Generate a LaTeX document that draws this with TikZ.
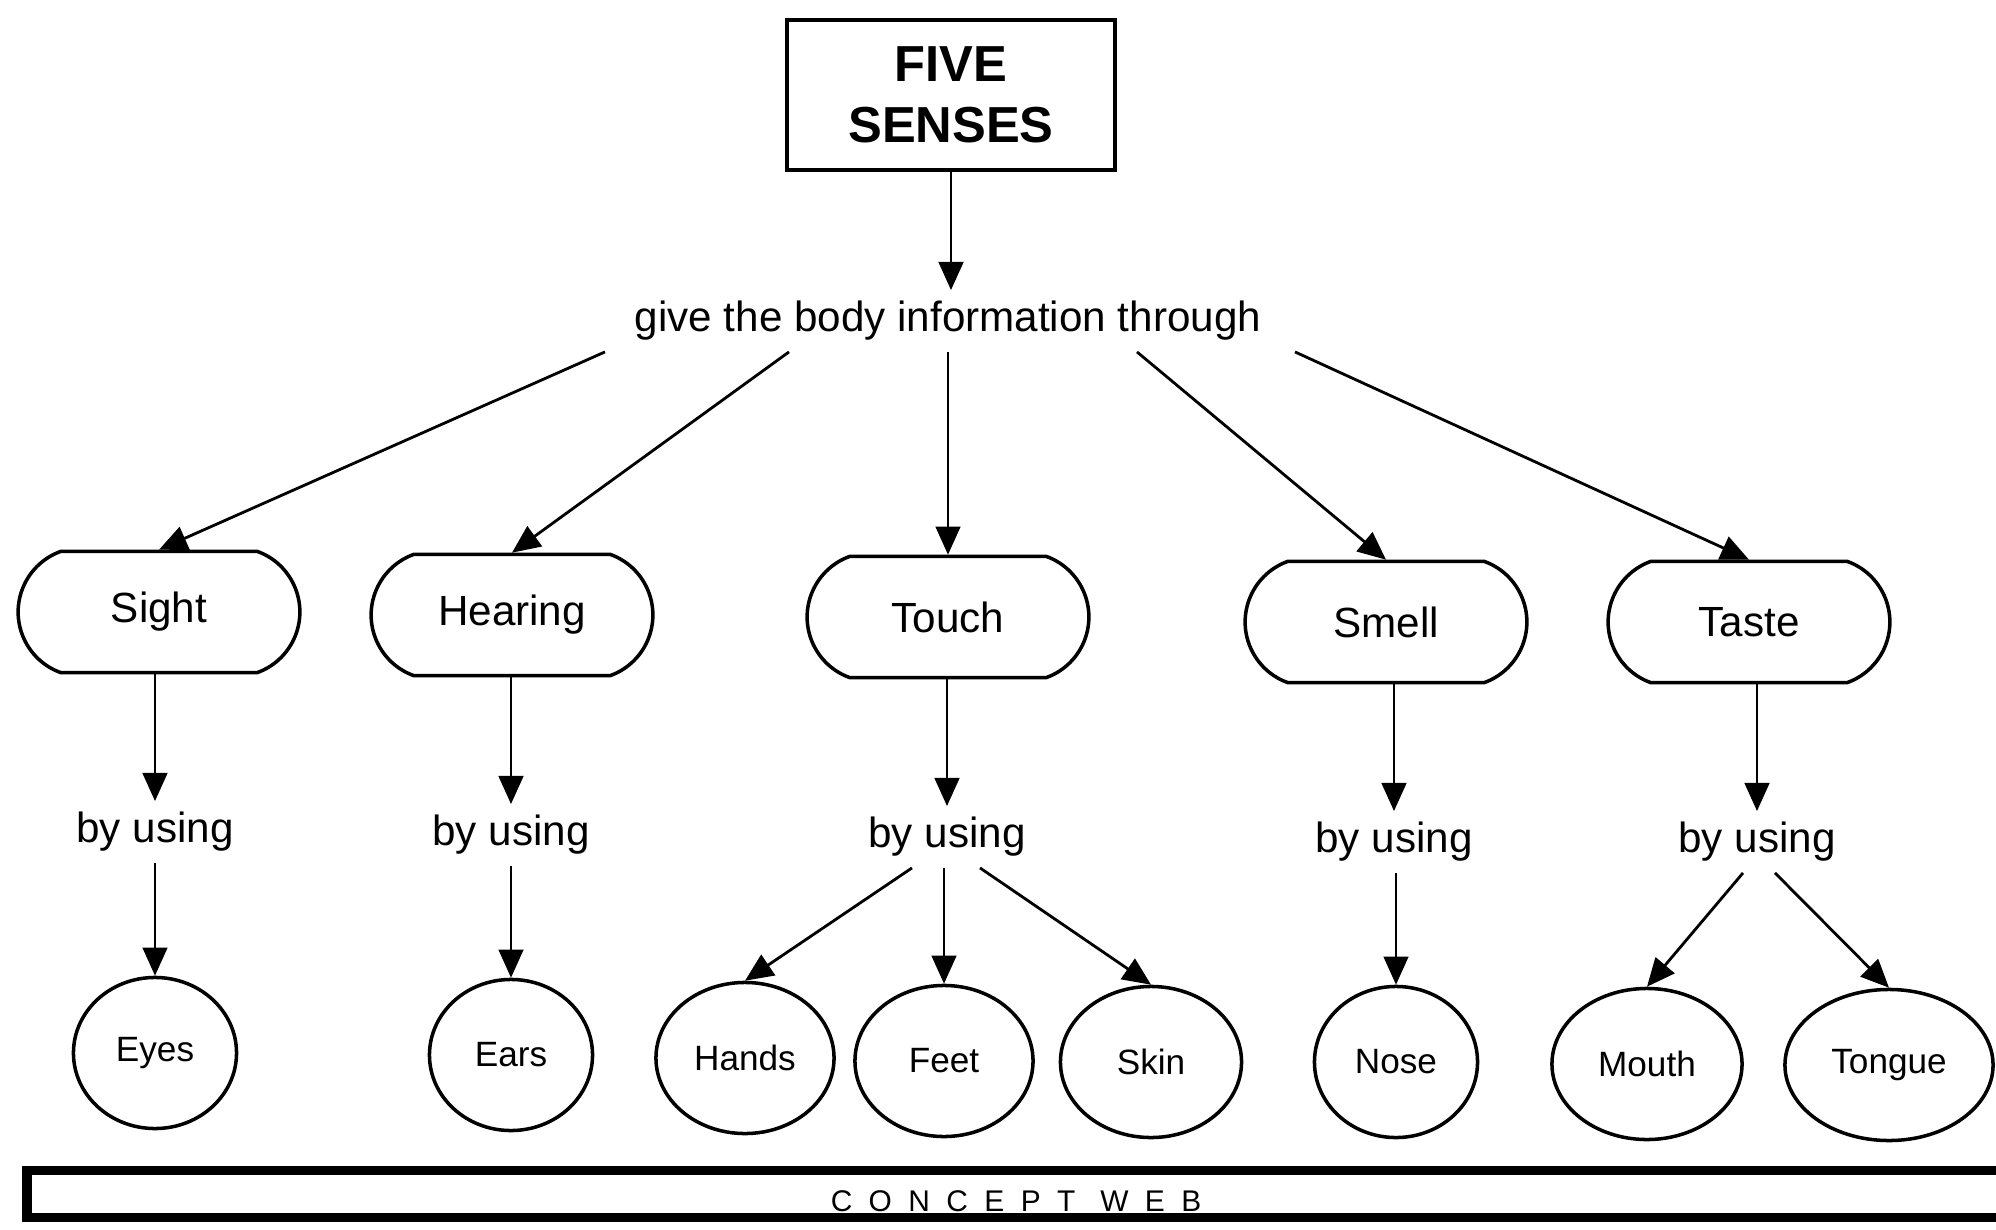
\documentclass[tikz,border=0pt]{standalone}
\usepackage{fontspec}
\setmainfont{Liberation Sans}
\usetikzlibrary{shapes.geometric,shapes.misc,arrows.meta,calc}

\begin{document}
\begin{tikzpicture}[x=0.01cm, y=-0.01cm,
    every node/.style={font=\fontsize{12}{14}\selectfont},
    titlebox/.style={draw, line width=1pt, minimum width=3.28cm, minimum height=1.5cm,
        align=center, font=\fontsize{14.4}{17.5}\selectfont\bfseries},
    sensebox/.style={draw, rounded rectangle, rounded rectangle arc length=140,
        line width=1pt, minimum width=3.05cm, minimum height=1.21cm},
    organ/.style={draw, ellipse, line width=1pt, minimum width=1.63cm,
        minimum height=1.51cm, inner sep=0pt, font=\fontsize{10}{12}\selectfont},
    link/.style={inner sep=3pt},
    banner/.style={draw, line width=2.8pt, minimum width=19.77cm, minimum height=0.47cm,
        inner sep=0pt, text height=10pt, text depth=0pt,
        font=\fontsize{8.5}{10}\selectfont\addfontfeature{LetterSpace=55}},
    arr/.style={line width=0.8pt, -{Triangle[length=8pt,width=7pt]}}]
    \useasboundingbox (0,0) rectangle (1996,1230);

    % Top
    \node[titlebox] (senses) at (951,95) {FIVE\\SENSES};
    \node[link] (give) at (948,321) {give the body information through};
    \draw[arr] (senses.south) -- (senses.south |- give.north);

    % Senses
    \foreach \nm/\x/\y/\txt/\dx/\bx in {sight/159/612/Sight/-343/155, hearing/512/615/Hearing/-159/511,
        touch/948/617/Touch/0/947, smell/1386/622/Smell/189/1394, taste/1749/622/Taste/347/1757} {
        \node[sensebox] (\nm) at (\x,\y) {\txt};
        \node[link] (\nm-by) at (\bx,\y+220) {by using};
        \draw[arr] ($(give.south)+(\dx,0)$) -- (\nm.north);
        \draw[arr] (\nm-by.north |- \nm.south) -- (\nm-by.north);
    }

    % Organs
    \node[organ] (eyes) at (155,1053) {Eyes};
    \node[organ] (ears) at (511,1055) {Ears};
    \node[organ, minimum width=1.78cm] (hands) at (745,1058) {Hands};
    \node[organ, minimum width=1.78cm] (feet) at (944,1061) {Feet};
    \node[organ, minimum width=1.81cm] (skin) at (1151,1062) {Skin};
    \node[organ] (nose) at (1396,1062) {Nose};
    \node[organ, minimum width=1.90cm] (mouth) at (1647,1064) {Mouth};
    \node[organ, minimum width=2.08cm] (tongue) at (1889,1065) {Tongue};

    \draw[arr] (eyes.north |- sight-by.south) -- (eyes.north);
    \draw[arr] (ears.north |- hearing-by.south) -- (ears.north);
    \draw[arr] ($(touch-by.south)+(-35,0)$) -- (hands.north);
    \draw[arr] (feet.north |- touch-by.south) -- (feet.north);
    \draw[arr] ($(touch-by.south)+(33,0)$) -- (skin.north);
    \draw[arr] (nose.north |- smell-by.south) -- (nose.north);
    \draw[arr] ($(taste-by.south)+(-14,0)$) -- (mouth.north);
    \draw[arr] ($(taste-by.south)+(18,0)$) -- (tongue.north);

    % Bottom strip
    \node[banner] (web) at (1016,1194) {CONCEPT WEB};
\end{tikzpicture}
\end{document}
